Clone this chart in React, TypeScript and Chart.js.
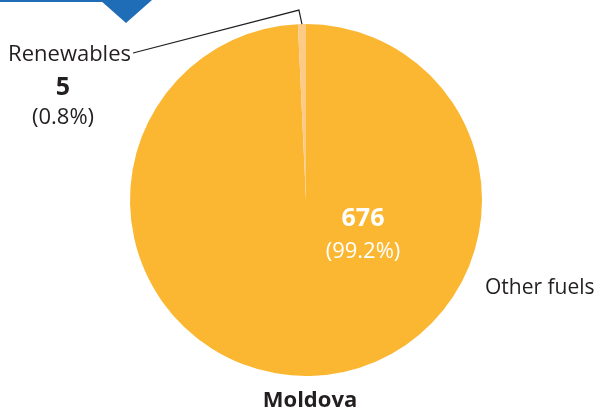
import React, { useEffect, useRef } from "react";
import { Chart, registerables } from "chart.js";

Chart.register(...registerables);

const categories = ["Other fuels", "Renewables"];
const values = [676, 5];
const percents = ["(99.2%)", "(0.8%)"];
const countryLabel = "Moldova";
const colors = ["#FBB731", "#FDCB88"];

const FONT = "'Open Sans', 'Noto Sans', sans-serif";

const labelPlugin = {
  id: "customLabels",
  afterDraw(chart: any) {
    const ctx = chart.ctx;
    const meta = chart.getDatasetMeta(0);
    const arc = meta.data[0];
    const cx = arc.x;
    const cy = arc.y;
    const r = arc.outerRadius;
    ctx.save();

    // banner decoration top-left
    ctx.fillStyle = "#1E6DB6";
    ctx.fillRect(0, 0, 104, 2);
    ctx.beginPath();
    ctx.moveTo(100, 0);
    ctx.lineTo(152, 0);
    ctx.lineTo(126, 23);
    ctx.closePath();
    ctx.fill();

    // Other fuels inner labels
    ctx.fillStyle = "#ffffff";
    ctx.textAlign = "center";
    ctx.textBaseline = "middle";
    ctx.font = `bold 25px ${FONT}`;
    ctx.fillText(String(values[0]), cx + 57, cy + 19);
    ctx.font = `22px ${FONT}`;
    ctx.fillText(percents[0], cx + 57, cy + 52);

    // Other fuels outside label
    ctx.fillStyle = "#231F20";
    ctx.textAlign = "left";
    ctx.font = `21px ${FONT}`;
    ctx.fillText(categories[0], cx + 179, cy + 88);

    // Renewables labels
    ctx.font = `22px ${FONT}`;
    ctx.textAlign = "right";
    ctx.fillText(categories[1], 131, 55);
    ctx.textAlign = "center";
    ctx.font = `bold 25px ${FONT}`;
    ctx.fillText(String(values[1]), 63, 88);
    ctx.font = `22px ${FONT}`;
    ctx.fillText(percents[1], 63, 118);

    // leader line
    const a2 = meta.data[1];
    const mid = (a2.startAngle + a2.endAngle) / 2;
    const px = cx + Math.cos(mid) * r;
    const py = cy + Math.sin(mid) * r;
    ctx.strokeStyle = "#231F20";
    ctx.lineWidth = 1.2;
    ctx.beginPath();
    ctx.moveTo(133, 53);
    ctx.lineTo(px - 3, py - 14);
    ctx.lineTo(px, py);
    ctx.stroke();

    // country label
    ctx.font = `bold 22px ${FONT}`;
    ctx.textAlign = "center";
    ctx.fillText(countryLabel, cx + 4, 401);
    ctx.restore();
  },
};

export default function App() {
  const ref = useRef<HTMLCanvasElement | null>(null);
  useEffect(() => {
    document.body.style.margin = "0";
    const chart = new Chart(ref.current as HTMLCanvasElement, {
      type: "pie",
      data: {
        labels: categories,
        datasets: [
          {
            data: values,
            backgroundColor: colors,
            borderWidth: 0,
          },
        ],
      },
      options: {
        responsive: false,
        animation: false,
        layout: { padding: { left: 130, right: 116, top: 24, bottom: 36 } },
        plugins: {
          legend: { display: false },
          tooltip: { enabled: false },
        },
      },
      plugins: [labelPlugin],
    });
    return () => chart.destroy();
  }, []);
  return (
    <div style={{ width: 598, height: 412, background: "#fff" }}>
      <canvas ref={ref} width={598} height={412} />
    </div>
  );
}
